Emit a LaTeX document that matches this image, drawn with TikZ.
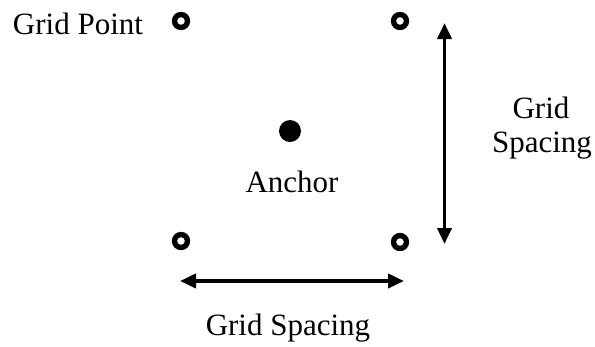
\documentclass[tikz,border=0pt]{standalone}
\usepackage{fontspec}
\setmainfont{Liberation Serif}
\usetikzlibrary{arrows.meta}
\begin{document}
\begin{tikzpicture}[x=1pt,y=-1pt,
  ring/.style={fill=black,even odd rule},
  lbl/.style={font=\fontsize{31}{34}\selectfont,inner sep=0pt,anchor=base,align=center},
  dimarrow/.style={line width=3.8pt,{Triangle[length=16pt,width=14pt]}-{Triangle[length=16pt,width=14pt]}}]
\useasboundingbox (0,0) rectangle (595,346);
\coordinate (tl) at (181,21);
\coordinate (tr) at (400,21);
\coordinate (bl) at (181,241);
\coordinate (br) at (400,242);
\coordinate (anc) at (290,131);
\fill[ring] (tl) circle (9.2) circle (3.9);
\fill[ring] (tr) circle (9.2) circle (3.9);
\fill[ring] (bl) circle (9.2) circle (3.9);
\fill[ring] (br) circle (9.2) circle (3.9);
\fill (anc) circle (11);
\node[lbl] (gp) at (78,34) {Grid Point};
\node[lbl] (anclbl) at (292,192) {Anchor};
\node[lbl] (gsr1) at (541,118) {Grid};
\node[lbl] (gsr2) at (542,152) {Spacing};
\node[lbl] (gsb) at (288,335) {Grid Spacing};
\coordinate (vt) at (444.5,23);
\coordinate (vb) at (444.5,244);
\coordinate (hl) at (180,281);
\coordinate (hr) at (404,281);
\draw[dimarrow] (vt) -- (vb);
\draw[dimarrow] (hl) -- (hr);
\end{tikzpicture}
\end{document}
